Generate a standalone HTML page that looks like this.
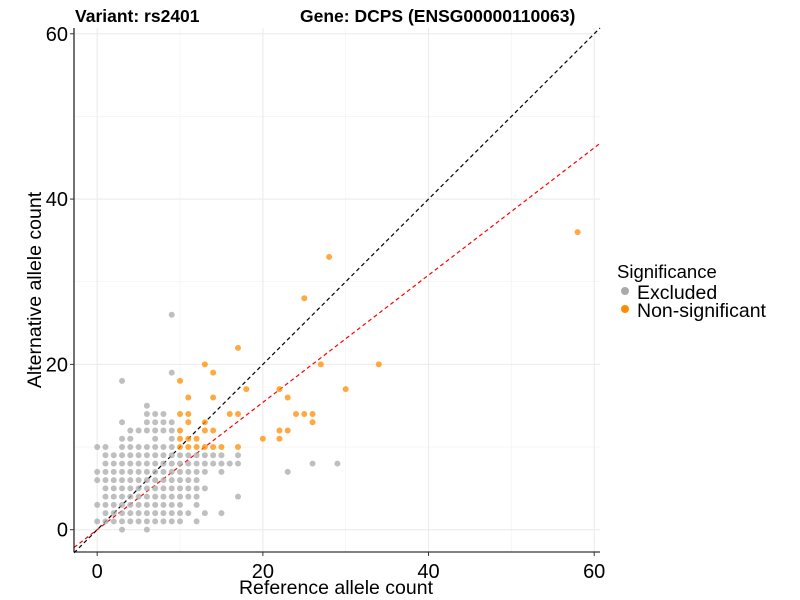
<!DOCTYPE html>
<html><head><meta charset="utf-8"><style>
html,body{margin:0;padding:0;background:#fff;}
svg{display:block;font-family:"Liberation Sans",Arial,sans-serif;}
</style></head><body>
<svg id="chart" width="800" height="600" viewBox="0 0 800 600">
<g id="grid"></g>
<g id="lines"></g>
<g id="points"></g>
<g id="axes"></g>
<text x="75" y="22" font-size="17.5" font-weight="bold">Variant: rs2401</text>
<text x="300" y="22" font-size="17.5" font-weight="bold">Gene: DCPS (ENSG00000110063)</text>
<text x="336" y="594" font-size="19.5" text-anchor="middle">Reference allele count</text>
<text transform="translate(41,290) rotate(-90)" font-size="19.5" text-anchor="middle">Alternative allele count</text>
<g>
<text x="617" y="278" font-size="18.5">Significance</text>
<circle cx="625" cy="291" r="4" fill="#aaaaaa"/>
<text x="637" y="299" font-size="19.5">Excluded</text>
<circle cx="625" cy="309" r="4" fill="#ff8c00"/>
<text x="637" y="317" font-size="19.5">Non-significant</text>
</g>
</svg>
<script>
const xTicks=[0,20,40,60];
const yTicks=[0,20,40,60];
const minorTicks=[10,30,50];
const xDomain=[-2.8,60.7];
const yDomain=[-2.7,60.7];
const blackSlope=1;
const redSlope=0.77;
const orangeX=[17,13,14,10,11,14,18,10,11,16,17,13,13,14,10,10,11,12,20,10,11,12,13,14,15,17,28,25,27,34,22,30,23,24,25,26,11,26,22,23,22,58];
const orangeY=[22,20,19,18,16,16,17,14,14,14,14,13,12,12,12,11,11,11,11,10,10,10,10,10,10,10,33,28,20,20,17,17,16,14,14,14,13,13,12,12,11,36];
const greyRowY=[26,19,18,15,14,13,12,11,10,9,8,7,6,5,4,3,2,1,0];
const greyRowX=[[9],[9],[3],[6],[6,7,8],[3,6,7,8,9],[4,5,6,7,8,9],[3,4,7,9],[0,1,3,4,5,6,7,8,9],
[1,2,3,4,5,6,7,8,9,10,11,12,13,14,15,17],[1,2,3,4,5,6,7,8,9,10,11,12,13,14,15,16,17,26,29],
[0,1,2,3,4,5,6,7,8,9,10,11,12,13,15,23],[0,1,2,3,4,5,6,7,8,9,10,11,12],[1,2,3,4,5,6,7,8,9,10,11,12,13],
[1,2,3,4,5,6,7,8,9,10,11,12,17],[0,1,2,3,4,5,6,7,8,9,10,12],[1,2,3,4,5,6,7,8,9,10,11,13,15],
[0,1,2,3,4,5,6,7,8,9,10,12],[3,6]];
const L=74,R=600,T=28,B=552;
const sx=v=>L+(v-xDomain[0])/(xDomain[1]-xDomain[0])*(R-L);
const sy=v=>B-(v-yDomain[0])/(yDomain[1]-yDomain[0])*(B-T);
const NS='http://www.w3.org/2000/svg';
function mk(tag,parent,attrs){const e=document.createElementNS(NS,tag);for(const k in attrs)e.setAttribute(k,attrs[k]);parent.appendChild(e);return e;}
const grid=document.getElementById('grid');
minorTicks.forEach(v=>{
 let a=mk('line',grid,{x1:sx(v),x2:sx(v),y1:T,y2:B,stroke:'#f2f2f2','stroke-width':0.6});
 
 
 let b=mk('line',grid,{x1:L,x2:R,y1:sy(v),y2:sy(v),stroke:'#f2f2f2','stroke-width':0.6});
 
 
});
xTicks.forEach(v=>{
 let a=mk('line',grid,{x1:sx(v),x2:sx(v),y1:T,y2:B,stroke:'#ebebeb','stroke-width':1.1});
 
 
});
yTicks.forEach(v=>{
 let b=mk('line',grid,{x1:L,x2:R,y1:sy(v),y2:sy(v),stroke:'#ebebeb','stroke-width':1.1});
 
 
});
const pts=document.getElementById('points');
greyRowY.forEach((y,i)=>greyRowX[i].forEach(x=>{
 const c=mk('circle',pts,{cx:sx(x),cy:sy(y),r:3,fill:'#aaaaaa','fill-opacity':0.75});
 
 
}));
orangeX.forEach((x,i)=>{
 const c=mk('circle',pts,{cx:sx(x),cy:sy(orangeY[i]),r:3,fill:'#ff8c00','fill-opacity':0.75});
 
 
});
const lines=document.getElementById('lines');
function refLine(slope,color,name){
 const x0=xDomain[0],x1=xDomain[1];
 let ya=slope*x0,yb=slope*x1,xb=x1;
 if(yb>yDomain[1]){yb=yDomain[1];xb=yb/slope;}
 const l=mk('line',lines,{x1:sx(x0),y1:sy(ya),x2:sx(xb),y2:sy(yb),stroke:color,'stroke-width':1.2,'stroke-dasharray':'4 3'});
 
 
}
const axes=document.getElementById('axes');
mk('line',axes,{x1:L,x2:L,y1:T,y2:B,stroke:'#000','stroke-width':1.1});
mk('line',axes,{x1:L,x2:R,y1:B,y2:B,stroke:'#000','stroke-width':1.1});
xTicks.forEach(v=>{
 const t=mk('line',axes,{x1:sx(v),x2:sx(v),y1:B,y2:B+4,stroke:'#333'});
 
 
 const tx=mk('text',axes,{x:sx(v),y:B+26,'font-size':20,'text-anchor':'middle'});
 tx.textContent=v;
 
 
});
yTicks.forEach(v=>{
 const t=mk('line',axes,{x1:L-4,x2:L,y1:sy(v),y2:sy(v),stroke:'#333'});
 
 
 const tx=mk('text',axes,{x:L-6,y:sy(v)+7,'font-size':20,'text-anchor':'end'});
 tx.textContent=v;
 
 
});
refLine(blackSlope,'#000','identity-line');
refLine(redSlope,'#ff0000','fit-line');
</script>
</body></html>
